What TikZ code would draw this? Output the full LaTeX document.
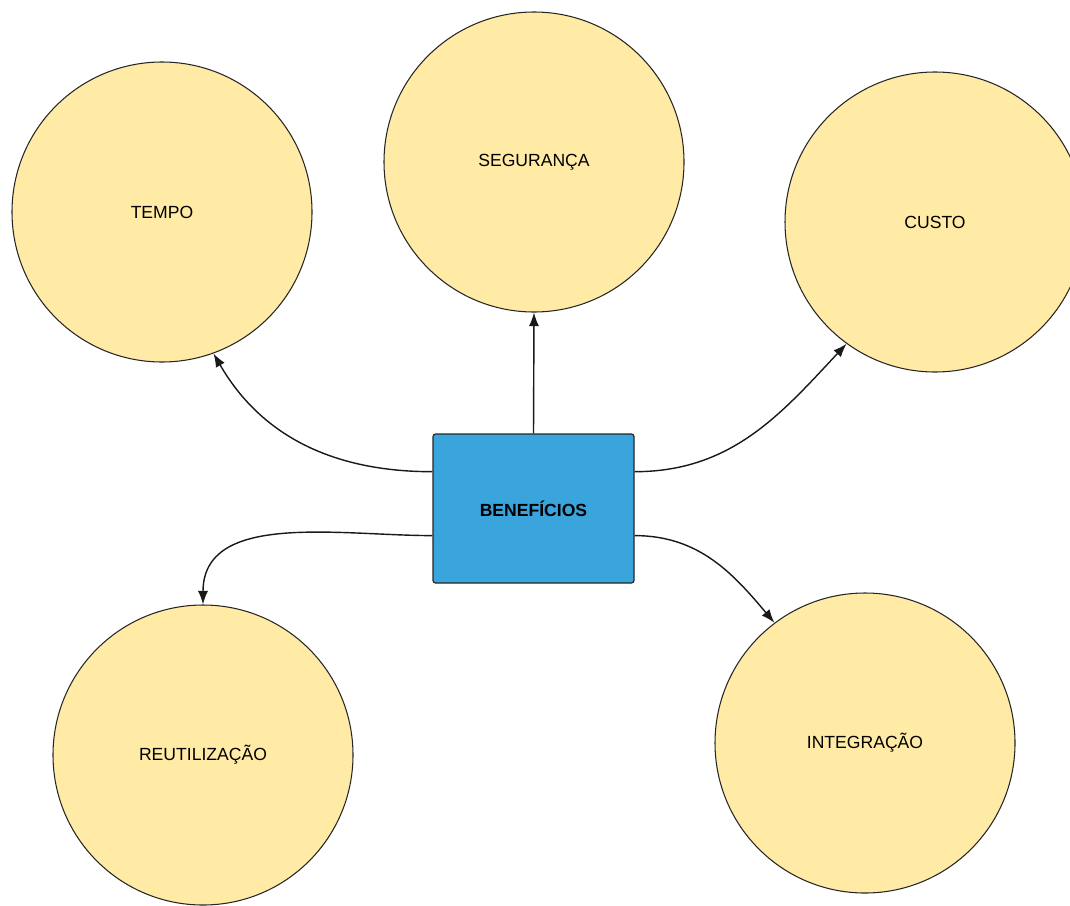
\documentclass[tikz,border=0pt]{standalone}
\usepackage{fontspec}
\setmainfont{Liberation Sans}
\usepackage{tikz}
\usetikzlibrary{calc,positioning,arrows.meta,shapes}
\definecolor{circfill}{HTML}{FFEAA6}
\definecolor{boxfill}{HTML}{3AA5DD}

\begin{document}
\begin{tikzpicture}[circ/.style={circle,draw=black!85,fill=circfill,line width=0.6pt,minimum size=6cm,inner sep=0pt},
  core/.style={rectangle,draw=black!85,fill=boxfill,line width=0.7pt,rounded corners=1.5pt,minimum width=4.02cm,minimum height=2.98cm,font=\bfseries},
  arr/.style={-{Latex[length=2.7mm,width=2mm]},line width=0.8pt,black!90}]
  \useasboundingbox (0,0) rectangle (21.4,-18.1);
  \node[circ] (tempo) at (3.24,-4.24) {TEMPO};
  \node[circ] (seg) at (10.68,-3.24) {SEGURANÇA};
  \node[circ] (custo) at (18.7,-4.44) {CUSTO};
  \node[circ] (reut) at (4.06,-15.1) {REUTILIZAÇÃO};
  \node[circ] (integ) at (17.3,-14.86) {INTEGRAÇÃO};

  \node[core] (ben) at (10.67,-10.17) {BENEFÍCIOS};

  \draw[arr] (ben.north) -- (seg.south);
  \draw[arr] (ben.160) to[out=180,in=-60] (tempo.-70);
  \draw[arr] (ben.20) to[out=0,in=-133] (custo.-126);
  \draw[arr] (ben.195) to[out=180,in=90] (reut.north);
  \draw[arr] (ben.-15) to[out=0,in=130] (integ.127);
\end{tikzpicture}
\end{document}
